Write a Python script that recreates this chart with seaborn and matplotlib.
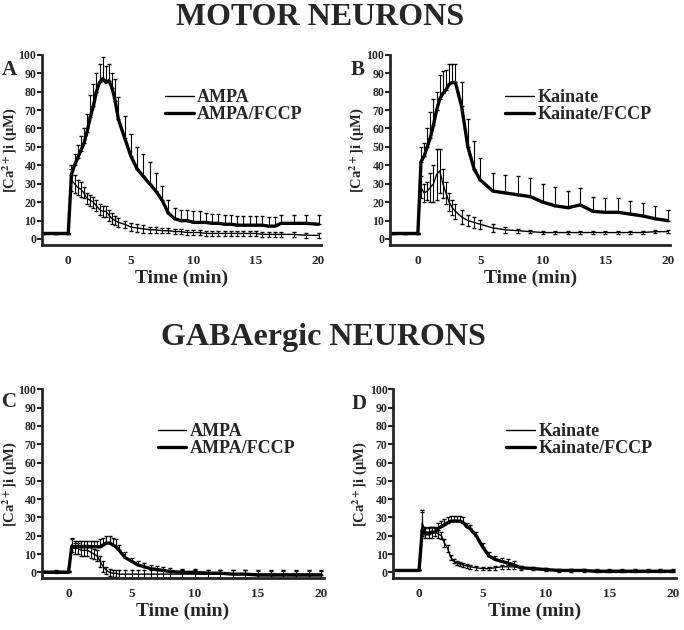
import numpy as np
import pandas as pd
import seaborn as sns
import matplotlib.pyplot as plt

# panel A: motor neurons, AMPA
t_a = [-2, -1, 0, 0.25, 0.5, 0.75, 1, 1.25, 1.5, 1.75, 2, 2.25, 2.5, 2.75, 3, 3.25, 3.5, 3.75, 4, 4.5,
       5, 5.5, 6, 6.5, 7, 7.5, 8, 8.5, 9, 9.5, 10, 10.5, 11, 11.5, 12, 12.5, 13, 13.5, 14, 14.5,
       15, 15.5, 16, 16.5, 17, 18, 19, 20]
ampa_fccp_a = [3, 3, 3, 35, 40, 44, 48, 52, 58, 66, 72, 80, 85, 87, 85, 86, 82, 75, 65, 55,
               45, 38, 34, 30, 26, 21, 14, 11, 10, 10, 9, 9, 9, 8.5, 8.5, 8, 8, 7.5, 7.5, 7.5,
               7.5, 7.5, 7, 7, 8.5, 8.5, 8.5, 8]
ampa_fccp_a_err = [0, 0, 0, 5, 6, 7, 8, 8, 10, 12, 12, 10, 10, 12, 9, 9, 8, 12, 12, 12,
                   12, 12, 12, 12, 10, 8, 7, 6, 6, 6, 6, 6, 5, 5, 5, 5, 5, 5, 5, 5,
                   5, 5, 5, 5, 4.5, 4.5, 4.5, 5]
ampa_a = [2.5, 2.5, 2.5, 32, 30, 28, 27, 25, 22, 21, 20, 18, 16, 15, 15, 13, 11, 10, 9, 8,
          6.5, 6, 5.5, 5, 5, 4.5, 4.5, 4, 4, 3.5, 3.5, 3.5, 3, 3, 3, 3, 3, 3, 3, 3,
          3, 2.5, 2.5, 2.5, 2.5, 2.5, 2, 2]
ampa_a_err = [0, 0, 0, 6, 5, 4, 4, 3, 3, 3, 3, 3, 3, 3, 3, 3, 3, 2.5, 2.5, 2,
              2, 2, 2, 1.5, 1.5, 1.5, 1.5, 1.5, 1.5, 1.5, 1.5, 1.5, 1.5, 1.5, 1.5, 1.5, 1.5, 1.5, 1.5, 1.5,
              1.5, 1.5, 1.5, 1.5, 1.5, 1.5, 1.5, 1.5]

# panel B: motor neurons, kainate
t_b = [-2, -1, 0, 0.25, 0.5, 0.75, 1, 1.25, 1.5, 1.75, 2, 2.25, 2.5, 2.75, 3, 3.5, 4, 4.5, 5,
       6, 7, 8, 9, 10, 11, 12, 13, 14, 15, 16, 17, 18, 19, 20]
kain_fccp_b = [3, 3, 3, 42, 45, 50, 55, 62, 70, 76, 79, 81, 84, 85, 85, 72, 50, 38, 32,
               26, 25, 24, 23, 20, 18, 17, 18.5, 15, 14.5, 14.5, 13.5, 12.5, 11, 10]
kain_fccp_b_err = [0, 0, 0, 8, 7, 10, 14, 14, 10, 13, 12, 11, 11, 10, 10, 13, 15, 15, 12,
                   10, 10, 10, 10, 10, 10, 9, 9, 8, 8, 8, 7, 7, 7, 6]
kain_b = [2.5, 2.5, 2.5, 28, 25, 26, 28, 30, 35, 37, 30, 25, 20, 17, 15, 12, 10, 9, 8,
          6, 5, 4.5, 4, 3.5, 3.5, 3.5, 3.5, 3.5, 3.5, 3.5, 3.5, 3.5, 4, 4]
kain_b_err = [0, 0, 0, 6, 5, 5, 8, 10, 14, 12, 8, 6, 5, 4, 4, 4, 3, 3, 2.5,
              2, 1.5, 1, 1, 1, 1, 1, 1, 1, 1, 1, 1, 1, 1, 1]

# panels C and D: GABAergic neurons
t_cd = [-2, -1, 0, 0.25, 0.5, 0.75, 1, 1.25, 1.5, 1.75, 2, 2.25, 2.5, 2.75, 3, 3.25, 3.5, 3.75, 4,
        4.5, 5, 5.5, 6, 6.5, 7, 7.5, 8, 9, 10, 11, 12, 13, 14, 15, 16, 17, 18, 19, 20]
ampa_fccp_c = [0, 0, 0, 14, 14, 14, 14, 14, 14, 14, 14, 14, 14, 15, 16, 16, 15, 14, 12,
               8, 6, 4, 3, 2, 1.5, 1, 0.5, 0, 0, -0.5, -0.5, -1, -1, -1.5, -1.5, -1.5, -1.5, -1.5, -1.5]
ampa_fccp_c_err = [0, 0, 0, 4, 3, 3, 3, 3, 3, 3, 3, 3, 4, 4, 4, 4, 4, 4, 3,
                   3, 2, 2, 2, 2, 2, 2, 2, 2, 2, 2, 2, 2, 2, 2, 2, 2, 2, 2, 2]
ampa_c = [0.5, 0.5, 0.5, 15, 13, 13, 12, 12, 12, 11, 10, 9, 6, 3, 1, 0, -0.5, -0.5, -1,
          -1, -1, -1, -1, -1, -1, -1, -1, -1, -1, -1, -1, -1, -1, -1, -1, -1, -1, -1, -1]
ampa_c_err = [0, 1, 0, 4, 3, 3, 3, 3, 3, 3, 3, 3, 3, 3, 2, 2, 2, 2, 2,
              2, 2, 2, 2, 2, 2, 2, 2, 2, 2, 2, 2, 2, 2, 2, 2, 2, 2, 2, 2]
kain_fccp_d = [1, 1, 1, 23, 21, 21, 22, 22, 24, 25, 26, 27, 28, 28, 28, 28, 27, 25, 24,
               20, 14, 9, 7, 6, 5, 4, 2.5, 2, 1.5, 1, 1, 1, 0.5, 0.5, 0.5, 0.5, 0.5, 0.5, 0.5]
kain_fccp_d_err = [0, 0, 0, 10, 3, 3, 3, 3, 3, 3, 3, 3, 3, 3, 3, 3, 3, 2, 2,
                   2, 2, 2, 2, 2, 2, 2, 1, 1, 1, 1, 1, 1, 1, 1, 1, 1, 1, 1, 1]
kain_d = [1, 1, 1, 27, 22, 22, 22, 22, 21, 20, 16, 13, 8, 6, 5, 4.5, 4, 3.5, 3,
          2.5, 2, 2, 2.5, 3, 3, 3, 2.5, 2, 1.5, 1, 1, 1, 1, 1, 1, 1, 1, 1, 1]
kain_d_err = [0, 0, 0, 7, 3, 3, 3, 2, 2, 2, 2, 2, 1.5, 1, 1, 1, 1, 1, 1,
              1, 1, 1, 1, 1, 1, 1, 1, 1, 1, 1, 1, 1, 1, 1, 1, 1, 1, 1, 1]

sns.set_style("ticks")
plt.rcParams['font.family'] = ['Liberation Serif', 'DejaVu Serif']
plt.rcParams['font.weight'] = 'bold'
plt.rcParams['axes.labelweight'] = 'bold'
plt.rcParams['mathtext.fontset'] = 'stix'

W, H = 684, 630
fig = plt.figure(figsize=(W / 100, H / 100), dpi=100)

# axes rect, x min, letter, letter position (px), legend anchor x, ylabel x, data
panels = [
    ([0.0614, 0.611, 0.408, 0.302], -2.1, "A", (2, 75), 0.44, -0.082, t_a,
     (ampa_a, ampa_a_err, "AMPA"), (ampa_fccp_a, ampa_fccp_a_err, "AMPA/FCCP")),
    ([0.570, 0.611, 0.410, 0.302], -2.24, "B", (351, 75), 0.41, -0.086, t_b,
     (kain_b, kain_b_err, "Kainate"), (kain_fccp_b, kain_fccp_b_err, "Kainate/FCCP")),
    ([0.0614, 0.082, 0.412, 0.300], -2.1, "C", (2, 407), 0.41, -0.082, t_cd,
     (ampa_c, ampa_c_err, "AMPA"), (ampa_fccp_c, ampa_fccp_c_err, "AMPA/FCCP")),
    ([0.5746, 0.082, 0.413, 0.300], -2.05, "D", (352, 409), 0.40, -0.085, t_cd,
     (kain_d, kain_d_err, "Kainate"), (kain_fccp_d, kain_fccp_d_err, "Kainate/FCCP")),
]

for rect, xmin, letter, lpos, legx, ylx, t, thin, thick in panels:
    ax = fig.add_axes(rect)
    df = pd.DataFrame({"Time": t, "thin": thin[0], "thick": thick[0]})
    sns.lineplot(data=df, x="Time", y="thin", color="black", linewidth=1.0, ax=ax, label=thin[2])
    sns.lineplot(data=df, x="Time", y="thick", color="black", linewidth=2.4, ax=ax, label=thick[2])
    ax.errorbar(t, thin[0], yerr=thin[1], fmt="none", ecolor="black", elinewidth=0.8, capsize=1.5)
    ax.errorbar(t, thick[0], yerr=[np.zeros(len(t)), thick[1]], fmt="none", ecolor="black",
                elinewidth=0.8, capsize=1.5)
    ax.set_xlim(xmin, 20.2)
    ax.set_ylim(-3.3, 100)
    ax.set_yticks(range(0, 101, 10))
    ax.set_xticks([0, 5, 10, 15, 20])
    ax.tick_params(axis="y", labelsize=8.5, width=1.5, length=3.5, pad=0.5)
    ax.tick_params(axis="x", labelsize=9.5, width=1.5, length=0, pad=7)
    for lab in ax.get_xticklabels() + ax.get_yticklabels():
        lab.set_fontweight("bold")
    sns.despine(ax=ax)
    ax.spines["left"].set_linewidth(2)
    ax.spines["bottom"].set_linewidth(2)
    ax.set_xlabel("Time (min)", fontsize=14, labelpad=2)
    ax.set_ylabel("[Ca$^{\\mathbf{2+}}$]i (\u03bcM)", fontsize=10.5)
    ax.yaxis.set_label_coords(ylx, 0.5)
    fig.text(lpos[0] / W, 1 - lpos[1] / H, letter, fontsize=15, fontweight="bold",
             ha="left", va="baseline")
    ax.legend(loc="upper left", bbox_to_anchor=(legx, 0.82), frameon=False, fontsize=13,
              handlelength=1.6, handletextpad=0.2, labelspacing=0.0, borderpad=0, borderaxespad=0)

fig.text(320 / W, 1 - 25 / H, "MOTOR NEURONS", ha="center", va="baseline", fontsize=23, fontweight="bold")
fig.text(323 / W, 1 - 345 / H, "GABAergic NEURONS", ha="center", va="baseline", fontsize=23, fontweight="bold")

plt.savefig("out.png", dpi=100)
